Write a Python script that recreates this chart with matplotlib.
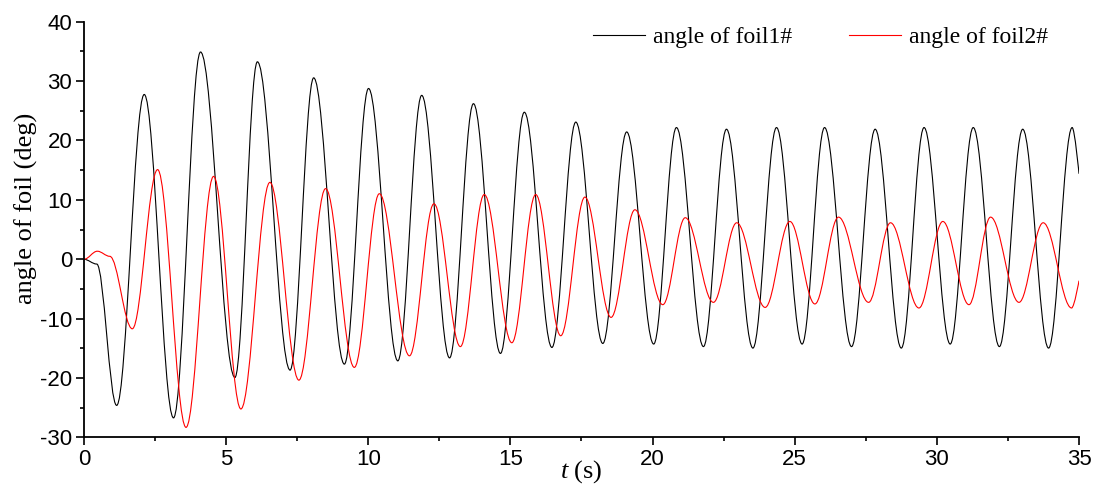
import matplotlib
matplotlib.use("Agg")
import matplotlib.pyplot as plt
from matplotlib.path import Path
from matplotlib.patches import PathPatch
from matplotlib.lines import Line2D
from matplotlib.ticker import MultipleLocator

# turning points of the pitch angle of each foil: time (s) and angle (deg)
foil1_t = [0, 0.45, 1.15, 2.12, 3.15, 4.10, 5.31, 6.10, 7.25, 8.08, 9.16,
           10.01, 11.04, 11.88, 12.86, 13.70, 14.65, 15.49, 16.46, 17.30,
           18.25, 19.09, 20.04, 20.84, 21.79, 22.60, 23.53, 24.36, 25.26,
           26.05, 27.00, 27.83, 28.75, 29.55, 30.47, 31.28, 32.20, 33.02,
           33.93, 34.76, 35.0]
foil1_angle = [0, -0.8, -24.6, 27.75, -26.7, 34.9, -19.9, 33.25, -18.66,
               30.55, -17.65, 28.76, -17.1, 27.6, -16.6, 26.2, -15.85, 24.76,
               -14.84, 23.1, -14.17, 21.44, -14.27, 22.18, -14.7, 21.9,
               -14.95, 22.18, -14.27, 22.18, -14.7, 21.9, -14.95, 22.18,
               -14.27, 22.18, -14.7, 21.9, -14.95, 22.18, 14.4]

foil2_t = [0, 0.47, 0.91, 1.70, 2.59, 3.59, 4.56, 5.52, 6.54, 7.56, 8.50,
           9.51, 10.39, 11.45, 12.31, 13.24, 14.08, 15.05, 15.89, 16.77,
           17.62, 18.54, 19.38, 20.36, 21.15, 22.14, 22.96, 23.96, 24.83,
           25.71, 26.54, 27.60, 28.37, 29.37, 30.21, 31.13, 31.89, 32.89,
           33.74, 34.74, 35.0]
foil2_angle = [0, 1.36, 0.5, -11.7, 15.1, -28.3, 13.96, -25.2, 12.95, -20.35,
               11.9, -18.2, 11.04, -16.25, 9.35, -14.7, 10.9, -14.05, 10.9,
               -12.87, 10.47, -9.78, 8.34, -7.64, 7.0, -7.25, 6.15, -8.1, 6.37,
               -7.52, 7.1, -7.25, 6.15, -8.2, 6.37, -7.64, 7.1, -7.25, 6.15,
               -8.2, -3.6]


def smooth_path(t, v, k=0.36):
    # cubic segments, flat at every turning point, last one left open
    verts = [(t[0], v[0])]
    codes = [Path.MOVETO]
    for i in range(1, len(t)):
        dt = t[i] - t[i - 1]
        c1 = (t[i - 1] + k * dt, v[i - 1])
        if i == len(t) - 1:
            c2 = (t[i], v[i])
        else:
            c2 = (t[i] - k * dt, v[i])
        verts += [c1, c2, (t[i], v[i])]
        codes += [Path.CURVE4] * 3
    return Path(verts, codes)


plt.rcParams["font.family"] = "Liberation Sans"
plt.rcParams["axes.unicode_minus"] = False
plt.rcParams["mathtext.fontset"] = "custom"
plt.rcParams["mathtext.it"] = "Liberation Serif:italic"
plt.rcParams["mathtext.rm"] = "Liberation Serif"

fig = plt.figure(figsize=(10.99, 4.91), dpi=100)
ax = fig.add_axes([0.0764, 0.1090, 0.9054, 0.8468])

ax.add_patch(PathPatch(smooth_path(foil1_t, foil1_angle), fill=False,
                       edgecolor="black", linewidth=0.8))
ax.add_patch(PathPatch(smooth_path(foil2_t, foil2_angle), fill=False,
                       edgecolor="#ff0000", linewidth=0.8))

ax.set_xlim(0, 35)
ax.set_ylim(-30, 40)
ax.xaxis.set_major_locator(MultipleLocator(5))
ax.xaxis.set_minor_locator(MultipleLocator(2.5))
ax.yaxis.set_major_locator(MultipleLocator(10))
ax.yaxis.set_minor_locator(MultipleLocator(5))
ax.tick_params(which="both", direction="out", width=1.2, labelsize=16, pad=3)
ax.tick_params(which="major", length=5.5)
ax.tick_params(which="minor", length=3)

for side in ["top", "right"]:
    ax.spines[side].set_visible(False)
for side in ["left", "bottom"]:
    ax.spines[side].set_linewidth(1.3)

ax.set_ylabel("angle of foil (deg)", family="Liberation Serif", fontsize=19)
ax.yaxis.set_label_coords(-0.046, 0.55)
ax.set_xlabel("$t$ (s)", family="Liberation Serif", fontsize=19)
ax.xaxis.set_label_coords(0.5, -0.05)

handles = [Line2D([], [], color="black", linewidth=0.8),
           Line2D([], [], color="#ff0000", linewidth=0.8)]
ax.legend(handles, ["angle of foil1#", "angle of foil2#"], ncol=2,
          frameon=False, loc="center left", bbox_to_anchor=(0.5116, 0.963),
          prop={"family": "Liberation Serif", "size": 17},
          handlelength=2.2, handletextpad=0.35, columnspacing=2.4,
          borderpad=0, borderaxespad=0)

fig.savefig("out.png", dpi=100)
